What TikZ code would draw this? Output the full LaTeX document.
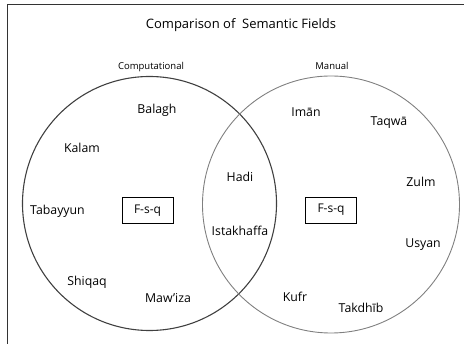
\documentclass[tikz,border=0pt]{standalone}
\usepackage{fontspec}
\setmainfont{Open Sans}
\begin{document}
\begin{tikzpicture}[x=1pt,y=-1pt,
  lbl/.style={font=\fontsize{12.3}{14}\selectfont, inner sep=0pt, anchor=center},
  head/.style={font=\fontsize{9.5}{11}\selectfont, inner sep=0pt},
  fbox/.style={draw=black, line width=0.9pt, minimum width=51pt, minimum height=26pt, inner sep=0pt, font=\fontsize{12}{14}\selectfont},
  leftc/.style={draw=black!75, line width=1.1pt},
  rightc/.style={draw=black!50, line width=0.9pt},
  frame/.style={draw=black!80, line width=1.4pt}]
\useasboundingbox (0,0) rectangle (464,344);
% frame
\coordinate (ftl) at (7.5,4.5);
\coordinate (ftr) at (470,4.5);
\coordinate (fbl) at (7.5,350);
\draw[frame] (ftr) -- (ftl) -- (fbl);
% circles
\node[leftc, circle, minimum size=254pt, inner sep=0pt] (L) at (149.5,203.5) {};
\node[rightc, circle, minimum size=257pt, inner sep=0pt] (R) at (331,204.5) {};
% titles
\node[font=\fontsize{13}{15}\selectfont, inner sep=0pt] (title) at (241,25) {Comparison of\ \ Semantic Fields};
\node[head] (comp) at (151,67) {Computational};
\node[head] (man) at (332,66) {Manual};
% left words
\node[lbl] (balagh) at (157,110) {Balagh};
\node[lbl] (kalam) at (82,148) {Kalam};
\node[lbl] (tab) at (57.5,211) {Tabayyun};
\node[fbox] (fsqL) at (147.5,210.5) {F-s-q};
\node[lbl] (shiqaq) at (87,282) {Shiqaq};
\node[lbl] (mawiza) at (168,298) {Maw'iza};
% intersection
\node[lbl] (hadi) at (240,177) {Hadi};
\node[lbl] (ist) at (240,231) {Istakhaffa};
% right words
\node[lbl] (iman) at (306,112) {Imān};
\node[lbl] (taqwa) at (389,123) {Taqwā};
\node[lbl] (zulm) at (421,182) {Zulm};
\node[fbox] (fsqR) at (331,210) {F-s-q};
\node[lbl] (usyan) at (423,245) {Usyan};
\node[lbl] (kufr) at (295,297) {Kufr};
\node[lbl] (takdhib) at (361,308) {Takdhīb};
\end{tikzpicture}
\end{document}
